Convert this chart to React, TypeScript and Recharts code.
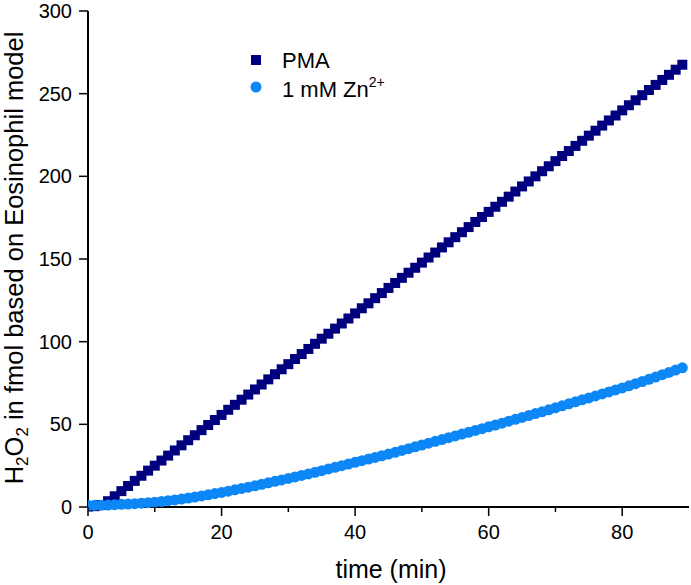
import React from 'react';
import { ScatterChart, Scatter, XAxis, YAxis, Legend } from 'recharts';

// sampling times (min)
const times = [
  0, 1, 2, 3, 4, 5, 6, 7, 8, 9, 10, 11, 12, 13, 14, 15, 16, 17, 18, 19,
  20, 21, 22, 23, 24, 25, 26, 27, 28, 29, 30, 31, 32, 33, 34, 35, 36, 37, 38, 39,
  40, 41, 42, 43, 44, 45, 46, 47, 48, 49, 50, 51, 52, 53, 54, 55, 56, 57, 58, 59,
  60, 61, 62, 63, 64, 65, 66, 67, 68, 69, 70, 71, 72, 73, 74, 75, 76, 77, 78, 79,
  80, 81, 82, 83, 84, 85, 86, 87, 88, 89,
];

// H2O2 (fmol), PMA
const pmaValues = [
  0.3, 0.5, 1.2, 3.5, 6.5, 9.6, 12.7, 15.8, 18.9, 22.0, 25.0, 28.1, 31.1, 34.2, 37.3, 40.4, 43.4, 46.5, 49.6, 52.6,
  55.7, 58.8, 61.8, 64.9, 68.0, 71.1, 74.1, 77.2, 80.3, 83.3, 86.4, 89.5, 92.5, 95.6, 98.7, 101.8, 104.8, 107.9, 111.0, 114.0,
  117.1, 120.2, 123.2, 126.3, 129.4, 132.5, 135.5, 138.6, 141.7, 144.7, 147.8, 150.9, 153.9, 157.0, 160.1, 163.2, 166.2, 169.3, 172.4, 175.4,
  178.5, 181.6, 184.6, 187.7, 190.8, 193.9, 196.9, 200.0, 203.1, 206.1, 209.2, 212.3, 215.3, 218.4, 221.5, 224.6, 227.6, 230.7, 233.8, 236.8,
  239.9, 243.0, 246.0, 249.1, 252.2, 255.3, 258.3, 261.4, 264.5, 267.5,
];

// H2O2 (fmol), 1 mM Zn2+
const znValues = [
  1.0, 1.0, 1.1, 1.2, 1.4, 1.6, 1.8, 2.0, 2.3, 2.6, 2.9, 3.3, 3.8, 4.3, 4.8, 5.4, 6.0, 6.7, 7.4, 8.1,
  8.8, 9.6, 10.4, 11.2, 12.0, 12.8, 13.7, 14.6, 15.5, 16.4, 17.3, 18.2, 19.1, 20.0, 21.0, 22.0, 23.0, 24.0, 25.0, 26.0,
  27.0, 28.0, 29.0, 30.0, 31.0, 32.0, 33.1, 34.2, 35.3, 36.4, 37.5, 38.6, 39.7, 40.8, 41.9, 43.0, 44.1, 45.2, 46.3, 47.4,
  48.5, 49.6, 50.7, 51.9, 53.0, 54.2, 55.3, 56.5, 57.6, 58.8, 60.0, 61.2, 62.4, 63.6, 64.8, 66.0, 67.2, 68.4, 69.6, 70.8,
  72.0, 73.3, 74.6, 75.9, 77.2, 78.6, 80.0, 81.4, 82.8, 84.2,
];

const xTicks = [0, 10, 20, 30, 40, 50, 60, 70, 80];
const xLabeled = [0, 20, 40, 60, 80];
const yTicks = [0, 50, 100, 150, 200, 250, 300];

const FONT = '"Liberation Sans", Arial, sans-serif';
const PMA_COLOR = '#00007F';
const ZN_COLOR = '#0D87F5';

const pmaData = times.map((t, i) => ({ t, v: pmaValues[i] }));
const znData = times.map((t, i) => ({ t, v: znValues[i] }));

const XTick = (props: any) => {
  const { x, y, payload } = props;
  const major = xLabeled.includes(payload.value);
  return (
    <g>
      <line x1={x} x2={x} y1={y} y2={y + (major ? 9 : 5)} stroke="#000" strokeWidth={1.5} />
      {major && (
        <text x={x} y={y + 32} textAnchor="middle" fontSize={20} fontFamily={FONT} fill="#000">
          {payload.value}
        </text>
      )}
    </g>
  );
};

const YTick = (props: any) => {
  const { x, y, payload } = props;
  return (
    <g>
      <line x1={x - 9} x2={x} y1={y} y2={y} stroke="#000" strokeWidth={1.5} />
      <text x={x - 16} y={y + 7} textAnchor="end" fontSize={20} fontFamily={FONT} fill="#000">
        {payload.value}
      </text>
    </g>
  );
};

const YTitle = () => (
  <text
    x={23}
    y={258}
    transform="rotate(-90, 23, 258)"
    textAnchor="middle"
    fontSize={25.5}
    fontFamily={FONT}
    fill="#000"
  >
    H<tspan dy={5} fontSize={17}>2</tspan>
    <tspan dy={-5}>O</tspan>
    <tspan dy={5} fontSize={17}>2</tspan>
    <tspan dy={-5}> in fmol based on Eosinophil model</tspan>
  </text>
);

const XTitle = () => (
  <text x={391} y={578} textAnchor="middle" fontSize={25} fontFamily={FONT} fill="#000">
    time (min)
  </text>
);

const LegendBox = () => (
  <svg width={220} height={60} style={{ overflow: 'visible' }}>
    <rect x={1} y={15} width={10} height={10} fill={PMA_COLOR} />
    <text x={32} y={28} fontSize={22} fontFamily={FONT} fill="#000">PMA</text>
    <circle cx={6} cy={47} r={5.5} fill={ZN_COLOR} />
    <text x={32} y={57} fontSize={22} fontFamily={FONT} fill="#000">
      1 mM Zn<tspan dy={-10} fontSize={14}>2+</tspan>
    </text>
  </svg>
);

export default function App() {
  return (
    <div style={{ position: 'absolute', left: 0, top: 0, background: '#fff' }}>
      <ScatterChart width={691} height={585} margin={{ top: 11, right: 2, bottom: 0, left: 0 }}>
        <XAxis
          type="number"
          dataKey="t"
          domain={[0, 90]}
          ticks={xTicks}
          tick={<XTick />}
          tickLine={false}
          tickSize={0}
          tickMargin={0}
          height={78}
          axisLine={{ stroke: '#000', strokeWidth: 2 }}
          allowDataOverflow
          label={<XTitle />}
        />
        <YAxis
          type="number"
          dataKey="v"
          domain={[0, 300]}
          ticks={yTicks}
          tick={<YTick />}
          tickLine={false}
          tickSize={0}
          tickMargin={0}
          width={88}
          axisLine={{ stroke: '#000', strokeWidth: 2 }}
          label={<YTitle />}
        />
        <Legend
          layout="vertical"
          align="center"
          verticalAlign="middle"
          content={<LegendBox />}
          wrapperStyle={{ position: 'absolute', left: 250, top: 40, width: 220, height: 60 }}
        />
        <Scatter
          name="PMA"
          data={pmaData}
          isAnimationActive={false}
          shape={(p: any) => <rect x={p.cx - 5} y={p.cy - 5} width={10} height={10} fill={PMA_COLOR} />}
        />
        <Scatter
          name="1 mM Zn2+"
          data={znData}
          isAnimationActive={false}
          shape={(p: any) => <circle cx={p.cx} cy={p.cy} r={5.5} fill={ZN_COLOR} />}
        />
      </ScatterChart>
    </div>
  );
}
